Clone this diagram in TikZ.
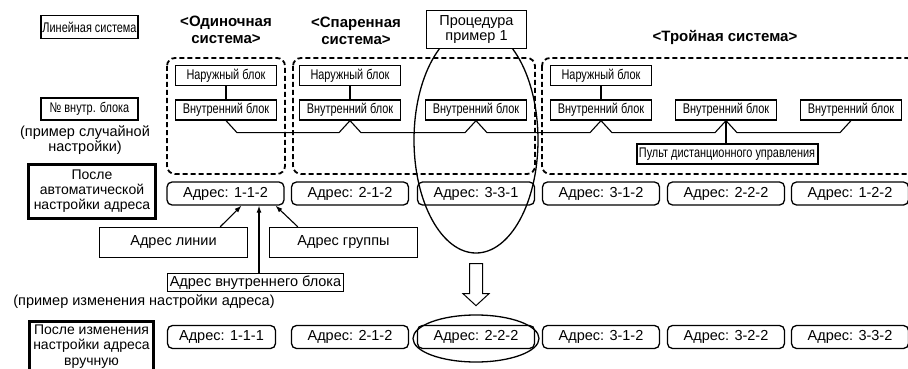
\documentclass[tikz,border=0pt]{standalone}
\usepackage{fontspec}
\setmainfont{Liberation Sans}
\newfontfamily\narrowfont[FakeStretch=0.78]{Liberation Sans}
\usetikzlibrary{shapes.geometric, arrows.meta, positioning, calc}

\tikzset{
  unitbox/.style={draw, line width=1.3pt, fill=white, inner sep=0pt, minimum width=101pt, minimum height=20pt, font=\narrowfont\fontsize{14}{14}\selectfont},
  plainbox/.style={draw, line width=1.3pt, fill=white, inner sep=0pt, align=center, font=\fontsize{14.5}{15}\selectfont},
  boldbox/.style={draw, line width=3pt, inner sep=0pt, align=center, font=\fontsize{14}{15}\selectfont},
  addrbox/.style={draw, line width=1.3pt, rounded corners=5pt, inner sep=0pt, minimum width=117pt, minimum height=23pt, font=\fontsize{14.5}{16}\selectfont},
  groupframe/.style={line width=1.8pt, dash pattern=on 5pt off 3pt, rounded corners=8pt},
  sysname/.style={align=center, font=\bfseries\fontsize{15}{16.5}\selectfont},
  note/.style={align=center, inner sep=0pt, font=\fontsize{14.5}{15}\selectfont},
  link/.style={line width=1.1pt},
  ptr/.style={line width=1.1pt, -{Latex[length=7pt, width=5pt]}},
  circled/.style={draw, ellipse, line width=1.3pt, inner sep=0pt},
  hollow/.style={line width=1pt, line join=miter},
}

\begin{document}
\begin{tikzpicture}[x=1pt, y=-1pt]
    \useasboundingbox (0,0) rectangle (908,369);
    \clip (0,0) rectangle (908,369);

    % Left column
    \node[unitbox, minimum width=97pt, minimum height=23pt] (linesys) at (89.5,27) {Линейная система};
    \node[unitbox, minimum width=97pt, minimum height=22pt] (unitno) at (89.5,109) {№ внутр. блока};
    \node[note] (randex) at (85,140.5) {(пример случайной\\настройки)};
    \node[boldbox, minimum width=127pt, minimum height=54pt] (autoaddr) at (92,191.5) {После\\автоматической\\настройки адреса};
    \node[note] (manex) at (144,302) {(пример изменения настройки адреса)};
    \node[boldbox, minimum width=124pt, minimum height=62pt, anchor=north] (manframe) at (91.5,319.5) {};
    \node[note, font=\fontsize{14}{15.5}\selectfont, below=5pt of manframe.north] (manaddr) {После изменения\\настройки адреса\\вручную};

    % System headers and groups
    \node[sysname] (single) at (226,30) {<Одиночная\\система>};
    \node[sysname] (twin) at (356,31) {<Спаренная\\система>};
    \node[sysname] (triple) at (725,37) {<Тройная система>};
    \draw[groupframe] (167,58) rectangle (285,174);
    \draw[groupframe] (293,58) rectangle (535,174);
    \draw[groupframe] (542,58) rectangle (915,174);

    % Units
    \foreach \c/\x in {1/226,2/350,3/476,4/601,5/726,6/851}
        \node[unitbox] (in\c) at (\x,110) {Внутренний блок};
    \foreach \c in {1,2,4} {
        \node[unitbox, above=13pt of in\c] (out\c) {Наружный блок};
        \draw[link] (out\c) -- (in\c);
    }
    \draw[link] (in1.south) -- ++(11,12)
        -- ($(in2.south)+(-11,12)$) -- (in2.south) -- ++(11,12)
        -- ($(in3.south)+(-11,12)$) -- (in3.south) -- ++(11,12)
        -- ($(in4.south)+(-11,12)$) -- (in4.south) -- ++(11,12)
        -- ($(in5.south)+(-11,12)$) -- (in5.south) -- ++(11,12)
        -- ($(in6.south)+(-11,12)$) -- (in6.south);
    \node[unitbox, line width=2pt, minimum width=181pt] (remote) at (727,154) {Пульт дистанционного управления};
    \draw[link] (in5.south) -- (in5.south |- remote.north);

    % Addresses
    \foreach \c/\x/\a in {1/225.5/1-1-2,2/350/2-1-2,3/476/3-3-1,4/601/3-1-2,5/726/2-2-2,6/850/1-2-2}
        \node[addrbox] (adr\c) at (\x,193.5) {Адрес: \a};
    \node[addrbox, minimum width=108pt] (new1) at (221.5,337) {Адрес: 1-1-1};
    \foreach \c/\x/\a in {2/350/2-1-2,3/476/2-2-2,4/601/3-1-2,5/726/3-2-2,6/850/3-3-2}
        \node[addrbox] (new\c) at (\x,337) {Адрес: \a};

    % Address parts
    \node[plainbox, minimum width=148pt, minimum height=30pt] (lineaddr) at (173.5,242.5) {Адрес линии};
    \node[plainbox, minimum width=148pt, minimum height=30pt] (grpaddr) at (343.5,242.5) {Адрес группы};
    \node[plainbox, minimum width=176pt, minimum height=18pt] (unitaddr) at (255.5,282.5) {Адрес внутреннего блока};
    \coordinate (tipmid) at ($(adr1.south)+(33.5,0)$);
    \draw[ptr] ($(lineaddr.north east)+(-28,0)$) -- ($(adr1.south)+(16,0)$);
    \draw[ptr] (tipmid |- unitaddr.north) -- (tipmid);
    \draw[ptr] ($(grpaddr.north west)+(29,0)$) -- ($(adr1.south)+(50,0)$);

    % Procedure example
    \node[circled, minimum width=124pt, minimum height=226pt] (sel) at (476,140) {};
    \node[plainbox, minimum width=100pt, minimum height=38pt] (proc) at (476.5,29.5) {Процедура\\пример 1};
    \node[circled, minimum width=126pt, minimum height=47pt] (selnew) at (476,338.5) {};
    \coordinate (hs) at ($(sel.south)+(0,10)$);
    \draw[hollow] ($(hs)+(-6.5,0)$) -- ++(0,30) -- ++(-6.5,0) -- ($(hs)+(0,42)$)
        -- ($(hs)+(13,30)$) -- ++(-6.5,0) -- ++(0,-30) -- cycle;
\end{tikzpicture}
\end{document}
